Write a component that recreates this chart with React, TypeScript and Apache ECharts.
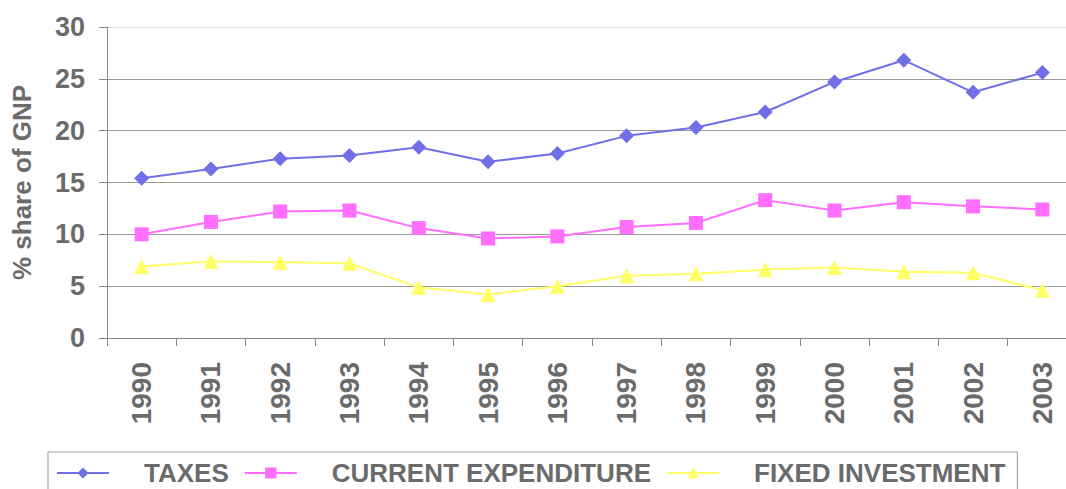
import React, { useEffect, useRef } from "react";
import * as echarts from "echarts";

const years = ["1990","1991","1992","1993","1994","1995","1996","1997","1998","1999","2000","2001","2002","2003"];
const taxes = [15.4, 16.3, 17.3, 17.6, 18.4, 17.0, 17.8, 19.5, 20.3, 21.8, 24.7, 26.8, 23.7, 25.6];
const currentExpenditure = [10.0, 11.2, 12.2, 12.3, 10.6, 9.6, 9.8, 10.7, 11.1, 13.3, 12.3, 13.1, 12.7, 12.4];
const fixedInvestment = [6.9, 7.4, 7.3, 7.2, 4.9, 4.2, 5.0, 6.0, 6.2, 6.6, 6.8, 6.4, 6.3, 4.6];
const seriesNames = ["TAXES", "CURRENT EXPENDITURE", "FIXED INVESTMENT"];

const FONT = "'Liberation Sans', Arial, sans-serif";
const GREY = "#6b6b6b";

export default function App() {
  const ref = useRef<HTMLDivElement>(null);
  useEffect(() => {
    document.body.style.margin = "0";
    document.body.style.overflow = "hidden";
    const chart = echarts.init(ref.current!, null, { renderer: "svg" });
    const mk = (name: string, data: number[], color: string, symbol: string, size: number) => ({
      name,
      type: "line",
      data,
      symbol,
      symbolSize: size,
      showSymbol: true,
      lineStyle: { color, width: 2 },
      itemStyle: { color },
    });
    chart.setOption({
      animation: false,
      backgroundColor: "#ffffff",
      textStyle: { fontFamily: FONT },
      grid: {
        left: 107,
        top: 27,
        width: 970,
        height: 311,
        containLabel: false,
        outerBoundsMode: "none",
      },
      xAxis: {
        type: "category",
        data: years,
        boundaryGap: true,
        axisLine: { lineStyle: { color: "#888888", width: 1 } },
        axisTick: { show: true, length: 8, interval: 0, lineStyle: { color: "#888888" } },
        axisLabel: {
          rotate: 90,
          interval: 0,
          margin: 24,
          color: GREY,
          fontWeight: "bold",
          fontSize: 28,
          fontFamily: FONT,
        },
        splitLine: { show: false },
      },
      yAxis: {
        type: "value",
        min: 0,
        max: 30,
        interval: 5,
        name: "% share of GNP",
        nameLocation: "middle",
        nameGap: 72,
        nameTextStyle: { color: GREY, fontWeight: "bold", fontSize: 26, fontFamily: FONT },
        axisLine: { show: true, lineStyle: { color: "#888888", width: 1 } },
        axisTick: { show: true, length: 8, lineStyle: { color: "#888888" } },
        axisLabel: { color: GREY, fontWeight: "bold", fontSize: 27, margin: 22, fontFamily: FONT },
        splitLine: {
          show: true,
          lineStyle: {
            color: ["#999999", "#999999", "#999999", "#999999", "#999999", "#999999", "#e2e2e2"],
            width: 1,
          },
        },
      },
      legend: {
        left: 48,
        top: 452,
        orient: "horizontal",
        data: seriesNames,
        itemWidth: 52,
        itemHeight: 14,
        itemGap: 15,
        padding: [8, 12, 12, 8],
        borderColor: "#999999",
        borderWidth: 1,
        textStyle: {
          color: GREY,
          fontWeight: "bold",
          fontSize: 26,
          fontFamily: FONT,
          padding: [0, 0, 0, 30],
        },
      },
      series: [
        mk(seriesNames[0], taxes, "#6f6fe8", "diamond", 15),
        mk(seriesNames[1], currentExpenditure, "#ff6eff", "rect", 14),
        mk(seriesNames[2], fixedInvestment, "#ffff66", "triangle", 15),
      ],
    });
    return () => chart.dispose();
  }, []);
  return <div ref={ref} style={{ width: 1066, height: 489 }} />;
}
